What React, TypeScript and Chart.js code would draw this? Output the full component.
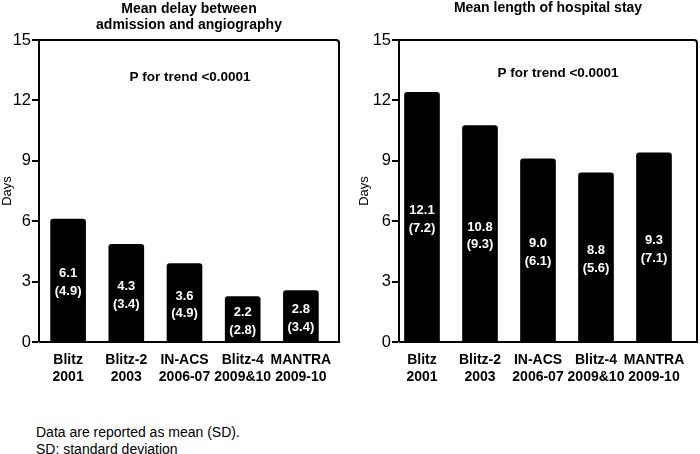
import React, { useEffect, useRef } from "react";
import { Chart, registerables } from "chart.js";

Chart.register(...registerables);

const categories = [
  ["Blitz", "2001"],
  ["Blitz-2", "2003"],
  ["IN-ACS", "2006-07"],
  ["Blitz-4", "2009&10"],
  ["MANTRA", "2009-10"],
];
const delayHeights = [6.1, 4.85, 3.9, 2.25, 2.55];
const delayMeans = ["6.1", "4.3", "3.6", "2.2", "2.8"];
const delaySDs = ["(4.9)", "(3.4)", "(4.9)", "(2.8)", "(3.4)"];
const stayHeights = [12.4, 10.75, 9.1, 8.4, 9.4];
const stayMeans = ["12.1", "10.8", "9.0", "8.8", "9.3"];
const staySDs = ["(7.2)", "(9.3)", "(6.1)", "(5.6)", "(7.1)"];
const yMax = 15;
const yStep = 3;
const yTitle = "Days";
const leftTitle = ["Mean delay between", "admission and angiography"];
const rightTitle = ["Mean length of hospital stay"];
const trendText = "P for trend <0.0001";
const footnotes = ["Data are reported as mean (SD).", "SD: standard deviation"];

const FONT = "'Liberation Sans', Arial, sans-serif";

type PanelProps = {
  title: string[];
  heights: number[];
  means: string[];
  sds: string[];
  yWidth: number;
  padRight: number;
  frameDxLeft: number;
  frameDxRight: number;
  tickPad: number;
  yTitlePad: number;
  titleY: number;
  trendDx: number;
  trendY: number;
};

function Panel(p: PanelProps) {
  const ref = useRef<HTMLCanvasElement | null>(null);
  useEffect(() => {
    if (!ref.current) return;
    const decor = {
      id: "decor",
      afterDraw(chart: any) {
        const ctx = chart.ctx;
        const a = chart.chartArea;
        const L = a.left + p.frameDxLeft;
        const R = a.right + p.frameDxRight;
        const T = a.top;
        const B = a.bottom;
        ctx.save();
        ctx.strokeStyle = "#000";
        ctx.lineWidth = 2;
        ctx.beginPath();
        ctx.moveTo(L, B);
        ctx.lineTo(L, T);
        ctx.lineTo(R - 3, T);
        ctx.quadraticCurveTo(R, T, R, T + 3);
        ctx.lineTo(R, B);
        ctx.lineTo(L, B);
        ctx.stroke();
        const ys = chart.scales.y;
        ctx.fillStyle = "#000";
        ys.ticks.forEach((t: any) => {
          const py = Math.round(ys.getPixelForValue(t.value));
          ctx.fillRect(L - 7, py - 1, 6, 2);
        });
        const cx = (L + R) / 2;
        ctx.textAlign = "center";
        ctx.textBaseline = "middle";
        ctx.font = "bold 14px " + FONT;
        p.title.forEach((t, i) => ctx.fillText(t, cx, p.titleY + i * 16));
        ctx.font = "bold 13.5px " + FONT;
        ctx.fillText(trendText, cx + p.trendDx, p.trendY);
        ctx.fillStyle = "#fff";
        ctx.font = "bold 13px " + FONT;
        const meta = chart.getDatasetMeta(0);
        meta.data.forEach((bar: any, i: number) => {
          const mid = (bar.y + bar.base) / 2 + 2;
          ctx.fillText(p.means[i], bar.x, mid - 8.75);
          ctx.fillText(p.sds[i], bar.x, mid + 8.75);
        });
        ctx.restore();
      },
    };
    const chart = new Chart(ref.current, {
      type: "bar",
      data: {
        labels: categories,
        datasets: [
          {
            data: p.heights,
            backgroundColor: "#000",
            borderWidth: 0,
            borderRadius: 3,
            barThickness: 35,
          },
        ],
      },
      options: {
        animation: false,
        responsive: false,
        maintainAspectRatio: false,
        layout: { padding: { top: 40, right: p.padRight, left: 0, bottom: 0 } },
        plugins: {
          legend: { display: false },
          tooltip: { enabled: false },
          title: { display: false },
        },
        scales: {
          x: {
            type: "category",
            offset: true,
            grid: { display: false, drawTicks: false },
            border: { display: false },
            ticks: {
              color: "#000",
              padding: 9.6,
              maxRotation: 0,
              autoSkip: false,
              font: { family: FONT, size: 14, weight: "bold", lineHeight: 1.2 },
            },
            afterFit: (s: any) => {
              s.height = 48;
            },
          },
          y: {
            min: 0,
            max: yMax,
            grid: { display: false, drawTicks: false },
            border: { display: false },
            ticks: {
              stepSize: yStep,
              color: "#000",
              padding: p.tickPad,
              font: { family: FONT, size: 16.5 },
            },
            title: {
              display: true,
              text: yTitle,
              color: "#000",
              padding: { top: p.yTitlePad, bottom: 0 },
              font: { family: FONT, size: 13 },
            },
            afterFit: (s: any) => {
              s.width = p.yWidth;
            },
          },
        },
      } as any,
      plugins: [decor],
    });
    return () => chart.destroy();
  }, []);
  return <canvas ref={ref} width={350} height={390} style={{ display: "block", width: 350, height: 390 }} />;
}

export default function App() {
  return (
    <div style={{ position: "absolute", left: 0, top: 0, width: 700, height: 454, background: "#fff", overflow: "hidden" }}>
      <div style={{ position: "absolute", left: 0, top: 0 }}>
        <Panel
          title={leftTitle}
          heights={delayHeights}
          means={delayMeans}
          sds={delaySDs}
          yWidth={39}
          padRight={20}
          frameDxLeft={0}
          frameDxRight={9}
          tickPad={8}
          yTitlePad={0}
          titleY={9}
          trendDx={1}
          trendY={77}
        />
      </div>
      <div style={{ position: "absolute", left: 350, top: 0 }}>
        <Panel
          title={rightTitle}
          heights={stayHeights}
          means={stayMeans}
          sds={staySDs}
          yWidth={43}
          padRight={17}
          frameDxLeft={6}
          frameDxRight={14}
          tickPad={2}
          yTitlePad={7}
          titleY={8.5}
          trendDx={10}
          trendY={73}
        />
      </div>
      <div
        style={{
          position: "absolute",
          left: 36,
          top: 424,
          fontFamily: FONT,
          fontSize: 14,
          lineHeight: "16.5px",
          color: "#000",
          whiteSpace: "pre",
        }}
      >
        {footnotes.map((t, i) => (
          <div key={i}>{t}</div>
        ))}
      </div>
    </div>
  );
}
